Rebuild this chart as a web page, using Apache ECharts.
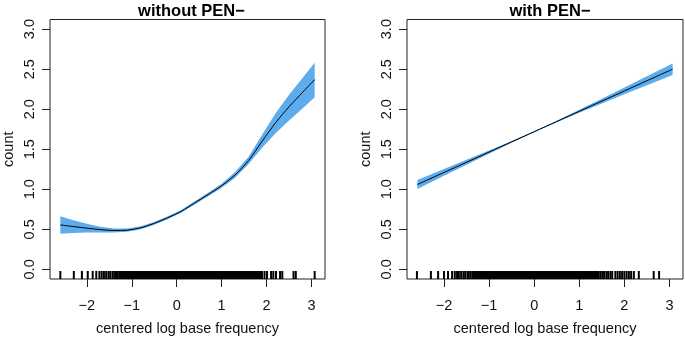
<!DOCTYPE html>
<html>
<head>
<meta charset="utf-8">
<script src="https://cdn.jsdelivr.net/npm/echarts@6/dist/echarts.min.js"></script>
<style>
  html, body { margin: 0; padding: 0; background: #fff; }
  #main { width: 685px; height: 341px; }
</style>
</head>
<body>
<div id="main"></div>
<script>
// tick labels
var xTicks = [-2, -1, 0, 1, 2, 3];
var yTicks = [0, 0.5, 1, 1.5, 2, 2.5, 3];

// left panel: without PEN-
var leftX     = [-2.59, -2.3, -2.0, -1.7, -1.4, -1.1, -0.8, -0.5, -0.2, 0.1, 0.4, 0.7, 1.0, 1.3, 1.6, 1.9, 2.2, 2.5, 2.8, 3.07];
var leftFit   = [0.555, 0.535, 0.515, 0.497, 0.486, 0.49, 0.52, 0.575, 0.645, 0.725, 0.83, 0.935, 1.045, 1.18, 1.36, 1.6, 1.83, 2.03, 2.21, 2.37];
var leftLower = [0.445, 0.455, 0.46, 0.462, 0.462, 0.47, 0.502, 0.557, 0.627, 0.707, 0.81, 0.912, 1.02, 1.145, 1.315, 1.52, 1.70, 1.86, 2.01, 2.15];
var leftUpper = [0.665, 0.615, 0.57, 0.532, 0.51, 0.512, 0.538, 0.593, 0.663, 0.743, 0.85, 0.958, 1.07, 1.215, 1.405, 1.68, 1.95, 2.18, 2.39, 2.58];

// right panel: with PEN-
var rightX     = [-2.59, -2.0, -1.5, -1.0, -0.5, 0.0, 0.5, 1.0, 1.5, 2.0, 2.5, 3.07];
var rightFit   = [1.06, 1.21, 1.337, 1.465, 1.592, 1.719, 1.846, 1.974, 2.101, 2.228, 2.355, 2.50];
var rightLower = [1.005, 1.168, 1.306, 1.445, 1.582, 1.713, 1.836, 1.956, 2.071, 2.186, 2.299, 2.428];
var rightUpper = [1.115, 1.252, 1.368, 1.485, 1.602, 1.725, 1.856, 1.992, 2.131, 2.27, 2.411, 2.572];

// rug positions (centered log base frequency)
var rugCommon = [-1.05,-1.025,-1,-0.975,-0.95,-0.925,-0.9,-0.875,-0.85,-0.825,-0.8,-0.775,-0.75,-0.725,-0.7,-0.675,-0.65,-0.625,-0.6,-0.575,-0.55,-0.525,-0.5,-0.475,-0.45,-0.425,-0.4,-0.375,-0.35,-0.325,-0.3,-0.275,-0.25,-0.225,-0.2,-0.175,-0.15,-0.125,-0.1,-0.075,-0.05,-0.025,0,0.025,0.05,0.075,0.1,0.125,0.15,0.175,0.2,0.225,0.25,0.275,0.3,0.325,0.35,0.375,0.4,0.425,0.45,0.475,0.5,0.525,0.55,0.575,0.6,0.625,0.65,0.675,0.7,0.725,0.75,0.775,0.8,0.825,0.85,0.875,0.9,0.925,0.95,0.975,1,1.025,1.05,1.075,1.1,1.125,1.15,1.175,1.2,1.225,1.25,1.275,1.3,1.325,1.35,1.375,1.4];
var rugLeftLow  = [-2.59,-2.29,-2.11,-1.98,-1.87,-1.79,-1.72,-1.67,-1.62,-1.57,-1.52,-1.48,-1.43,-1.39,-1.35,-1.32,-1.28,-1.25,-1.22,-1.19,-1.16,-1.13,-1.1,-1.075];
var rugLeftHigh = [1.425,1.45,1.475,1.5,1.525,1.55,1.575,1.6,1.625,1.65,1.675,1.7,1.725,1.75,1.775,1.8,1.825,1.85,1.875,1.9,1.955,2.01,2.1,2.15,2.21,2.3,2.35,2.6,2.65,3.07];
var rugRightLow  = [-2.6,-2.29,-2.13,-2,-1.91,-1.82,-1.76,-1.71,-1.67,-1.62,-1.57,-1.53,-1.48,-1.45,-1.41,-1.37,-1.34,-1.31,-1.28,-1.25,-1.22,-1.19,-1.17,-1.15,-1.125,-1.1,-1.075];
var rugRightHigh = [1.43,1.47,1.51,1.55,1.6,1.64,1.69,1.73,1.8,1.85,1.9,1.95,2,2.05,2.1,2.15,2.21,2.32,2.65,2.77];

var rugLeft = rugLeftLow.concat(rugCommon, rugLeftHigh);
var rugRight = rugRightLow.concat(rugCommon, rugRightHigh);

var xMin = -2.82, xMax = 3.30;
var yMin = -0.12, yMax = 3.12;
var font = 'Liberation Sans, Arial, sans-serif';

function minusFmt(v) {
    return v < 0 ? '\u2212' + Math.abs(v) : String(v);
}

function makeX(idx) {
    return {
        gridIndex: idx,
        type: 'value',
        min: xMin,
        max: xMax,
        axisLine: { show: false, onZero: false },
        splitLine: { show: false },
        axisTick: { show: true, inside: false, length: 8, customValues: xTicks, lineStyle: { color: '#222' } },
        axisLabel: { customValues: xTicks, formatter: minusFmt, margin: 19, fontSize: 14.5, color: '#111', fontFamily: font },
        name: 'centered log base frequency',
        nameLocation: 'middle',
        nameGap: 42,
        nameTextStyle: { fontSize: 14.5, color: '#111', fontFamily: font }
    };
}

function makeY(idx) {
    return {
        gridIndex: idx,
        type: 'value',
        min: yMin,
        max: yMax,
        axisLine: { show: false, onZero: false },
        splitLine: { show: false },
        axisTick: { show: true, inside: false, length: 8, customValues: yTicks, lineStyle: { color: '#222' } },
        axisLabel: { customValues: yTicks, rotate: 90, formatter: function (v) { return v.toFixed(1); }, margin: 13, fontSize: 14.5, color: '#111', fontFamily: font },
        name: 'count',
        nameLocation: 'middle',
        nameRotate: 90,
        nameGap: 34,
        nameTextStyle: { fontSize: 14.5, color: '#111', fontFamily: font }
    };
}

function bandSeries(idx, xs, lo, up) {
    return {
        type: 'custom',
        xAxisIndex: idx,
        yAxisIndex: idx,
        silent: true,
        z: 2,
        data: xs.map(function (x, i) { return [x, lo[i], up[i]]; }),
        renderItem: function (params, api) {
            if (params.dataIndex !== 0) return;
            var pts = [];
            for (var i = 0; i < xs.length; i++) pts.push(api.coord([xs[i], up[i]]));
            for (var j = xs.length - 1; j >= 0; j--) pts.push(api.coord([xs[j], lo[j]]));
            return { type: 'polygon', shape: { points: pts }, style: { fill: '#5CACEE', stroke: null } };
        }
    };
}

function fitSeries(idx, xs, fit) {
    return {
        type: 'line',
        xAxisIndex: idx,
        yAxisIndex: idx,
        silent: true,
        z: 3,
        smooth: 0.3,
        showSymbol: false,
        data: xs.map(function (x, i) { return [x, fit[i]]; }),
        lineStyle: { color: '#000', width: 1 }
    };
}

function rugSeries(idx, rug) {
    return {
        type: 'custom',
        xAxisIndex: idx,
        yAxisIndex: idx,
        silent: true,
        z: 3,
        data: rug.map(function (v) { return [v]; }),
        renderItem: function (params, api) {
            var p = api.coord([api.value(0), yMin]);
            return {
                type: 'line',
                shape: { x1: p[0], y1: p[1], x2: p[0], y2: p[1] - 8 },
                style: { stroke: '#000', lineWidth: 2 }
            };
        }
    };
}

var chart = echarts.init(document.getElementById('main'));
var option = {
    animation: false,
    backgroundColor: '#fff',
    textStyle: { fontFamily: font },
    title: [
        { text: 'without PEN\u2212', left: 186.5, top: -2, textAlign: 'center', textStyle: { fontSize: 16.5, fontWeight: 'bold', color: '#000', fontFamily: font } },
        { text: 'with PEN\u2212', left: 545, top: -2, textAlign: 'center', textStyle: { fontSize: 16.5, fontWeight: 'bold', color: '#000', fontFamily: font } }
    ],
    grid: [
        { left: 48, top: 19.5, width: 277, height: 267.5, show: true, borderColor: '#222', borderWidth: 1, backgroundColor: 'transparent' },
        { left: 407, top: 19.5, width: 276, height: 267.5, show: true, borderColor: '#222', borderWidth: 1, backgroundColor: 'transparent' }
    ],
    xAxis: [makeX(0), makeX(1)],
    yAxis: [makeY(0), makeY(1)],
    series: [
        bandSeries(0, leftX, leftLower, leftUpper),
        fitSeries(0, leftX, leftFit),
        rugSeries(0, rugLeft),
        bandSeries(1, rightX, rightLower, rightUpper),
        fitSeries(1, rightX, rightFit),
        rugSeries(1, rugRight)
    ]
};
chart.setOption(option);
</script>
</body>
</html>
